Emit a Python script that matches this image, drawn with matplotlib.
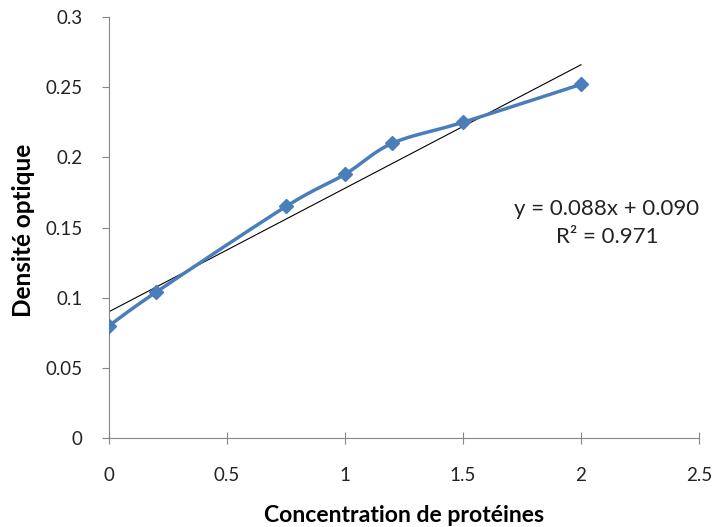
import numpy as np
import matplotlib
matplotlib.use("Agg")
import matplotlib.pyplot as plt

plt.rcParams['font.family'] = ['Lato', 'DejaVu Sans']

conc = [0, 0.2, 0.75, 1.0, 1.2, 1.5, 2.0]
dens = [0.080, 0.104, 0.165, 0.188, 0.210, 0.225, 0.252]
slope = 0.088
intercept = 0.090
xticks = [0, 0.5, 1, 1.5, 2, 2.5]
yticks = [0, 0.05, 0.1, 0.15, 0.2, 0.25, 0.3]
blue = '#4A7EBB'


def smooth(x, y, n=30):
    # Catmull-Rom style smoothing like Excel's smoothed line
    x = np.asarray(x, float)
    y = np.asarray(y, float)
    px = np.concatenate([[x[0]], x, [x[-1]]])
    py = np.concatenate([[y[0]], y, [y[-1]]])
    xs, ys = [], []
    t = np.linspace(0, 1, n)
    for i in range(1, len(px) - 2):
        p0 = np.array([px[i - 1], py[i - 1]])
        p1 = np.array([px[i], py[i]])
        p2 = np.array([px[i + 1], py[i + 1]])
        p3 = np.array([px[i + 2], py[i + 2]])
        c1 = p1 + (p2 - p0) / 6
        c2 = p2 - (p3 - p1) / 6
        for tt in t:
            b = ((1 - tt) ** 3) * p1 + 3 * ((1 - tt) ** 2) * tt * c1 + 3 * (1 - tt) * tt ** 2 * c2 + tt ** 3 * p2
            xs.append(b[0])
            ys.append(b[1])
    return xs, ys


fig = plt.figure(figsize=(7.13, 5.27), dpi=100)
ax = fig.add_axes([0.1529, 0.1689, 0.8275, 0.7988])

sx, sy = smooth(conc, dens)
ax.plot(sx, sy, color=blue, lw=2.5, zorder=3)
ax.plot(conc, dens, ls='none', marker='D', ms=7, color=blue, zorder=4)

tx = np.array([conc[0], conc[-1]])
ax.plot(tx, slope * tx + intercept, color='black', lw=0.8, zorder=2)

ax.text(2.11, 0.153, 'y = 0.088x + 0.090\nR² = 0.971', ha='center', va='center',
        fontsize=16, color='#222222', linespacing=1.5)

ax.set_xlim(0, 2.5)
ax.set_ylim(0, 0.3)
ax.set_xticks(xticks)
ax.set_xticklabels(['0', '0.5', '1', '1.5', '2', '2.5'])
ax.set_yticks(yticks)
ax.set_yticklabels(['0', '0.05', '0.1', '0.15', '0.2', '0.25', '0.3'])
for s in ['top', 'right']:
    ax.spines[s].set_visible(False)
for s in ['left', 'bottom']:
    ax.spines[s].set_color('#868686')
ax.tick_params(axis='x', direction='inout', length=8, color='#868686', labelsize=13.5, pad=17, labelcolor='#222222')
ax.tick_params(axis='y', direction='out', length=5, color='#868686', labelsize=13.5, pad=14, labelcolor='#222222')

fig.text(404 / 713, 1 - 515 / 527, 'Concentration de protéines', fontsize=16.6,
         fontweight='bold', ha='center', va='center')
fig.text(24 / 713, 1 - 230 / 527, 'Densité optique', fontsize=17.5,
         fontweight='bold', ha='center', va='center', rotation=90)

fig.savefig('out.png', dpi=100)
